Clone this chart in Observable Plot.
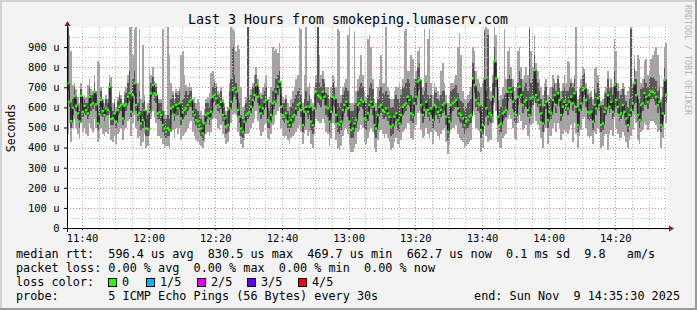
<!DOCTYPE html>
<html><head><meta charset="utf-8">
<script src="https://cdn.jsdelivr.net/npm/d3@7"></script>
<script src="https://cdn.jsdelivr.net/npm/@observablehq/plot@0.6"></script>
<style>
html,body{margin:0;padding:0;background:#f3f3f3;}
#chart{position:relative;width:697px;height:310px;overflow:hidden;background:#f3f3f3;}
#chart svg{display:block;}
</style></head><body><div id="chart"></div>
<script>
// ---- data (microseconds), one sample every 30 s, 11:35:30 .. 14:35:30 ----
const rttMed = [
720,628,532,598,656,608,570,529,658,578,608,587,
570,653,612,620,678,615,520,565,637,582,562,595,
587,703,542,545,570,529,587,603,612,545,608,615,
653,670,578,661,720,612,562,570,520,537,587,495,
492,578,670,711,670,661,570,575,562,512,495,479,
495,487,595,603,562,612,595,620,545,575,587,595,
612,628,637,578,562,537,529,512,495,470,520,562,
570,545,578,653,661,645,612,603,628,562,545,504,
512,595,628,686,695,678,587,554,495,479,529,562,
570,578,603,637,661,711,653,603,570,595,628,637,
537,529,562,620,628,678,703,728,603,562,554,570,
529,512,537,554,562,595,612,620,587,512,578,603,
578,603,529,512,595,678,661,653,645,678,653,603,
595,529,578,653,645,562,520,512,529,587,612,628,
595,529,487,495,520,537,612,620,637,628,545,537,
570,612,628,603,512,495,562,603,612,587,578,595,
570,554,504,512,554,570,537,520,562,603,612,620,
653,637,570,562,620,653,728,736,612,562,587,628,
587,570,595,537,612,603,578,562,587,612,620,554,
479,529,612,620,628,637,595,570,562,545,512,529,
537,554,562,744,711,637,620,612,487,512,744,595,
554,570,562,653,830,744,554,512,520,570,578,587,
678,695,678,628,570,562,653,703,661,612,628,637,
587,562,645,653,786,661,637,612,570,520,612,628,
537,578,570,637,661,612,670,637,562,603,628,612,
595,628,653,620,670,603,512,587,620,686,695,637,
578,570,578,529,612,595,645,612,512,520,578,595,
661,603,628,578,711,637,603,562,570,612,578,545,
512,562,587,620,720,661,562,537,612,620,670,653,
628,661,678,678,670,653,612,628,512,570,736,663
];
const rttP2 = [
680,600,500,560,620,580,540,500,620,550,580,560,
540,620,580,590,640,580,490,540,600,550,530,560,
560,660,510,510,540,500,560,570,580,510,580,580,
620,630,550,620,680,580,530,540,490,500,550,460,
460,540,640,670,630,620,540,540,530,480,460,450,
460,460,560,570,530,580,560,590,510,540,550,560,
580,600,600,550,530,510,500,480,460,440,490,530,
540,510,550,620,630,610,580,570,590,530,510,470,
480,560,590,650,660,640,550,520,460,450,500,530,
540,550,570,600,630,670,620,570,540,560,590,600,
500,500,530,590,590,640,660,690,570,530,520,540,
500,480,500,520,530,560,580,590,550,480,540,570,
540,560,490,470,550,640,620,610,600,640,610,560,
550,480,540,610,600,520,480,470,490,540,570,590,
550,490,450,450,480,500,570,580,600,590,500,490,
530,570,590,560,470,450,520,560,570,540,540,550,
530,510,460,470,510,530,490,480,520,560,570,580,
610,600,530,520,580,610,680,690,570,520,540,590,
550,530,560,500,570,560,540,520,550,570,580,510,
440,490,570,580,590,600,550,530,520,500,470,490,
500,510,520,700,670,600,580,570,450,470,700,550,
510,530,520,610,760,700,510,470,480,530,540,550,
630,650,640,590,530,520,610,660,620,570,590,600,
550,520,600,610,740,620,600,570,530,480,570,590,
500,540,540,600,620,570,630,600,530,570,590,580,
560,590,620,580,630,570,480,550,580,650,660,600,
540,530,540,490,570,560,610,580,480,490,540,560,
620,570,590,540,670,600,570,530,540,580,540,510,
480,530,550,580,680,620,530,500,570,580,630,610,
590,620,640,640,630,610,570,590,480,530,700,620
];
const rttP4 = [
1000,680,600,640,700,640,610,580,690,620,640,620,
620,700,660,660,720,660,580,620,680,620,600,640,
620,720,600,580,620,580,630,660,640,600,660,670,
720,780,640,740,780,670,620,680,580,620,630,540,
560,640,720,750,710,700,620,620,620,580,540,540,
560,540,640,660,620,670,660,680,620,640,660,680,
660,680,680,620,620,590,580,560,540,520,560,620,
620,600,640,700,720,700,660,650,680,620,600,560,
580,680,740,900,760,720,640,620,560,540,580,620,
1000,640,660,700,720,760,700,660,640,660,680,700,
600,580,620,680,700,740,760,780,660,620,620,640,
580,560,600,620,640,660,680,700,660,580,640,680,
630,660,600,580,660,720,1000,720,700,740,720,670,
660,600,650,720,700,640,620,600,620,660,680,700,
680,620,580,580,610,620,680,700,720,700,630,620,
660,700,720,690,600,580,640,680,700,670,660,680,
660,640,600,600,640,660,640,620,660,700,700,720,
740,720,660,650,700,740,800,820,700,660,680,720,
660,640,660,600,680,670,640,630,660,680,680,620,
560,600,680,690,700,710,670,640,630,620,580,600,
620,630,640,820,780,700,680,670,580,600,980,680,
960,640,630,720,900,820,630,600,600,640,660,670,
740,760,740,700,640,640,720,780,740,680,700,720,
680,990,720,740,860,740,720,680,640,600,680,700,
610,650,640,700,720,680,740,700,640,680,700,680,
680,700,720,700,740,680,600,660,700,760,770,700,
660,640,650,610,690,670,720,680,600,610,660,670,
740,680,700,660,780,720,680,640,660,690,660,630,
600,640,990,700,800,740,640,620,690,700,740,720,
700,740,750,750,740,730,680,700,600,650,800,740
];
const rttMin = [
470,520,430,500,540,500,470,450,520,480,500,470,
460,520,500,480,540,500,430,450,500,470,460,480,
470,560,440,430,460,420,470,480,500,440,490,500,
530,540,460,520,560,500,450,460,410,430,470,400,
410,460,540,580,550,520,460,460,450,420,400,410,
410,400,480,490,450,500,470,500,440,460,470,480,
500,520,530,480,460,440,430,420,410,400,430,470,
480,460,480,540,550,540,500,490,510,470,450,420,
430,480,520,560,570,560,480,460,420,400,440,470,
470,480,500,520,540,580,530,490,460,480,510,520,
450,440,470,510,520,560,580,600,500,460,450,460,
440,420,450,460,470,480,500,510,480,420,470,490,
460,480,420,400,470,540,530,520,520,540,520,480,
470,410,450,520,510,440,400,390,410,460,490,500,
470,410,380,380,400,420,480,490,510,500,430,420,
450,480,500,480,400,380,440,480,490,470,450,470,
450,430,390,400,430,450,420,400,440,480,490,500,
520,510,450,440,490,510,570,580,490,450,460,500,
470,450,480,420,490,480,460,440,470,490,500,430,
370,410,490,500,500,510,470,450,440,430,400,410,
420,430,440,580,560,500,490,480,380,400,580,460,
430,440,440,520,620,580,430,400,400,450,460,470,
540,560,540,500,450,440,520,560,530,490,500,510,
460,440,510,520,620,530,510,490,450,400,480,500,
420,460,460,500,520,480,520,500,440,470,490,480,
470,490,510,430,520,470,400,460,490,540,550,500,
460,450,460,420,480,470,500,480,400,410,460,470,
390,470,490,460,550,500,470,440,450,480,460,430,
400,440,460,490,560,520,440,420,480,490,520,510,
490,510,530,530,520,510,480,490,400,450,560,520
];
const rttMax = [
1000,960,880,710,720,690,650,620,720,650,660,650,
710,740,690,680,760,680,830,820,700,640,620,660,
640,760,750,620,640,600,650,680,660,620,680,700,
760,1000,1000,860,990,1000,720,990,640,910,660,580,
620,795,760,800,730,720,640,640,640,990,580,560,
1000,860,720,680,640,690,680,700,860,880,760,710,
700,720,700,640,650,620,640,620,580,560,590,640,
650,670,770,780,740,720,680,670,700,640,620,580,
600,720,1000,990,980,880,910,890,700,600,610,650,
1000,660,690,720,760,800,740,690,670,700,720,760,
640,650,700,900,880,890,870,920,700,650,640,660,
620,600,640,680,700,740,760,1000,990,620,760,1000,
700,720,640,620,700,760,1000,860,760,780,740,700,
700,640,700,760,740,700,990,980,660,700,720,740,
960,1000,620,620,980,680,740,760,860,760,680,650,
940,960,900,740,640,620,700,740,860,720,720,1000,
700,680,640,640,680,700,700,720,690,740,980,990,
780,780,860,840,740,780,880,900,740,700,990,760,
940,990,720,660,720,700,680,660,780,820,720,660,
620,660,720,720,740,760,900,970,860,680,640,640,
660,680,700,900,880,780,740,720,700,720,990,1000,
990,700,680,760,1000,960,700,640,660,700,990,740,
880,900,800,740,680,700,880,900,800,740,760,800,
760,1000,880,800,960,820,780,740,700,660,720,740,
660,700,700,760,740,720,760,720,680,720,760,720,
830,820,740,720,760,1000,640,700,740,800,790,720,
690,670,680,640,790,800,760,700,630,640,680,700,
780,700,740,700,940,880,720,680,690,720,700,660,
680,700,1000,720,860,780,860,840,720,740,830,840,
760,780,840,860,880,900,860,760,640,700,900,920
];
const yTicks = [0,100,200,300,400,500,600,700,800,900];
const yMinorGrid = [50,150,250,350,450,550,650,750,850,950];
const yMajorGrid = [100,200,300,400,500,600,700,800,900];
const titleText = "Last 3 Hours from smokeping.lumaserv.com";
const yLabelText = "Seconds";
const watermarkText = "RRDTOOL / TOBI OETIKER";
const legendLine1 = "median rtt:  596.4 us avg  830.5 us max  469.7 us min  662.7 us now  0.1 ms sd  9.8   am/s";
const legendLine2 = "packet loss: 0.00 % avg  0.00 % max  0.00 % min  0.00 % now";
const legendLine3 = "loss color:";
const legendLine4 = "probe:       5 ICMP Echo Pings (56 Bytes) every 30s";
const legendEnd = "end: Sun Nov  9 14:35:30 2025";
const lossLabels = ["0","1/5","2/5","3/5","4/5"];
const lossColors = ["#26ff00","#00b8ff","#dd00ff","#5e00ff","#ff0000"];

const startTime = new Date(Date.UTC(2025,10,9,11,35,30));
const endTime = new Date(Date.UTC(2025,10,9,14,35,30));
const stepMs = 30000;

const n = rttMed.length;
const okLen = [rttP2, rttP4, rttMin, rttMax].every(a => a.length === n);

const data = rttMed.map((m, i) => ({
  t0: new Date(+startTime + i*stepMs),
  t1: new Date(+startTime + (i+1)*stepMs),
  tc: new Date(+startTime + (i+0.5)*stepMs),
  lo: rttMin[i], p2: rttP2[i], med: m, p4: rttP4[i], hi: rttMax[i],
  mLo: m - 6, mHi: m + 6
}));

// time grid: minor every 5 min, labels every 20 min, major (red) lines hourly at :20
const allFive = d3.utcMinute.every(5).range(new Date(+startTime+1), endTime);
const xLabels = allFive.filter(d => d.getUTCMinutes() % 20 === 0);
const xMajor = allFive.filter(d => d.getUTCMinutes() === 20);
const xMinor = allFive.filter(d => d.getUTCMinutes() !== 20);

const FONT = "DejaVu Sans Mono";
const dotted = "1,2";

const plot = Plot.plot({
  width: 697, height: 310,
  marginTop: 27, marginBottom: 82, marginLeft: 67, marginRight: 30,
  style: {background: "transparent", fontFamily: FONT, fontSize: "10.5px", color: "#000", overflow: "visible"},
  x: {type: "utc", domain: [startTime, endTime], label: null},
  y: {domain: [0, 1000], clamp: true, label: null},
  marks: [
    Plot.frame({fill: "#ffffff", stroke: "none"}),
    Plot.rect(data, {x1: "t0", x2: "t1", y1: "lo", y2: "hi", fill: "#a4a4a4", shapeRendering: "crispEdges"}),
    Plot.rect(data, {x1: "t0", x2: "t1", y1: "p2", y2: "p4", fill: "#585858", shapeRendering: "crispEdges"}),
    Plot.ruleY(yMinorGrid, {stroke: "#b8b8b8", strokeDasharray: dotted, shapeRendering: "crispEdges"}),
    Plot.ruleX(xMinor, {stroke: "#b8b8b8", strokeDasharray: dotted, shapeRendering: "crispEdges"}),
    Plot.ruleY(yMajorGrid, {stroke: "#e88080", strokeDasharray: dotted, shapeRendering: "crispEdges"}),
    Plot.ruleX(xMajor, {stroke: "#e88080", strokeDasharray: dotted, shapeRendering: "crispEdges"}),
    Plot.line(data, {x: "tc", y: "med", curve: "step", stroke: "#1a1a1a", strokeWidth: 1.2}),
    Plot.rect(data, {x1: "t0", x2: "t1", y1: "mLo", y2: "mHi", fill: lossColors[0], insetLeft: -0.4, insetRight: -0.4}),
    Plot.axisY(yTicks, {tickFormat: d => d === 0 ? "0" : d + " u", tickSize: 3, tickPadding: 5, fontSize: 10.5}),
    Plot.axisX(xMinor, {tickFormat: () => "", tickSize: 2, stroke: "#e88080"}),
    Plot.axisX(xLabels, {tickFormat: d3.utcFormat("%H:%M"), tickSize: 2, tickPadding: 4, fontSize: 10.5})
  ]
});
document.getElementById("chart").appendChild(plot);

const svg = d3.select(plot);
const sx = plot.scale("x"), sy = plot.scale("y");
const ax = sx.apply(startTime), axEnd = sx.apply(endTime);
const ay = sy.apply(0), ayTop = sy.apply(1000);

// axes lines + arrows
svg.append("line").attr("x1", ax - 4).attr("x2", axEnd + 3).attr("y1", ay + 0.5).attr("y2", ay + 0.5)
  .attr("stroke", "#000").attr("stroke-width", 1);
svg.append("line").attr("x1", ax + 0.5).attr("x2", ax + 0.5).attr("y1", ay + 4).attr("y2", ayTop - 2)
  .attr("stroke", "#000").attr("stroke-width", 1);
svg.append("path").attr("d", `M${axEnd+2},${ay-2.5}L${axEnd+7},${ay+0.5}L${axEnd+2},${ay+3.5}Z`).attr("fill", "#8b1a1a");
svg.append("path").attr("d", `M${ax-2.5},${ayTop-1}L${ax+0.5},${ayTop-6}L${ax+3.5},${ayTop-1}Z`).attr("fill", "#8b1a1a");

// borders
svg.append("rect").attr("x", 0).attr("y", 0).attr("width", 697).attr("height", 2).attr("fill", "#d2d2d2");
svg.append("rect").attr("x", 0).attr("y", 0).attr("width", 2).attr("height", 310).attr("fill", "#d2d2d2");
svg.append("rect").attr("x", 0).attr("y", 308).attr("width", 697).attr("height", 2).attr("fill", "#9a9a9a");
svg.append("rect").attr("x", 695).attr("y", 0).attr("width", 2).attr("height", 310).attr("fill", "#9a9a9a");

// title
svg.append("text").attr("x", 348).attr("y", 24).attr("text-anchor", "middle")
  .attr("font-family", FONT).attr("font-size", 13.3).attr("fill", "#000").text(titleText);
// y label
svg.append("text").attr("transform", "translate(15,128) rotate(-90)").attr("text-anchor", "middle")
  .attr("font-family", FONT).attr("font-size", 11.5).attr("fill", "#000").text(yLabelText);
// watermark
svg.append("text").attr("transform", "translate(684.5,5) rotate(90)").attr("text-anchor", "start")
  .attr("font-family", FONT).attr("font-size", 8.3).attr("fill", "#b4b4b4").text(watermarkText);

// legend
const lg = svg.append("g").attr("font-family", FONT).attr("font-size", 11.8).attr("fill", "#000")
  .attr("text-anchor", "start").style("white-space", "pre");
lg.append("text").attr("x", 16).attr("y", 258).text(legendLine1);
lg.append("text").attr("x", 16).attr("y", 272).text(legendLine2);
lg.append("text").attr("x", 16).attr("y", 286).text(legendLine3);
lg.append("text").attr("x", 16).attr("y", 300).text(legendLine4);
lg.append("text").attr("x", 680).attr("y", 300).attr("text-anchor", "end").text(legendEnd);
const boxX = [108, 146, 197, 247, 298];
const labX = [122, 160, 211, 261, 312];
lossLabels.forEach((lab, i) => {
  lg.append("rect").attr("x", boxX[i] + 0.5).attr("y", 278.5).attr("width", 8).attr("height", 8)
    .attr("fill", lossColors[i]).attr("stroke", "#000").attr("stroke-width", 1);
  lg.append("text").attr("x", labX[i]).attr("y", 286).text(lab);
});

if (!okLen) {
  svg.append("text").attr("x", 100).attr("y", 150).attr("fill", "red").text("LENGTH MISMATCH " + [n, rttP2.length, rttP4.length, rttMin.length, rttMax.length].join(","));
}
</script></body></html>
